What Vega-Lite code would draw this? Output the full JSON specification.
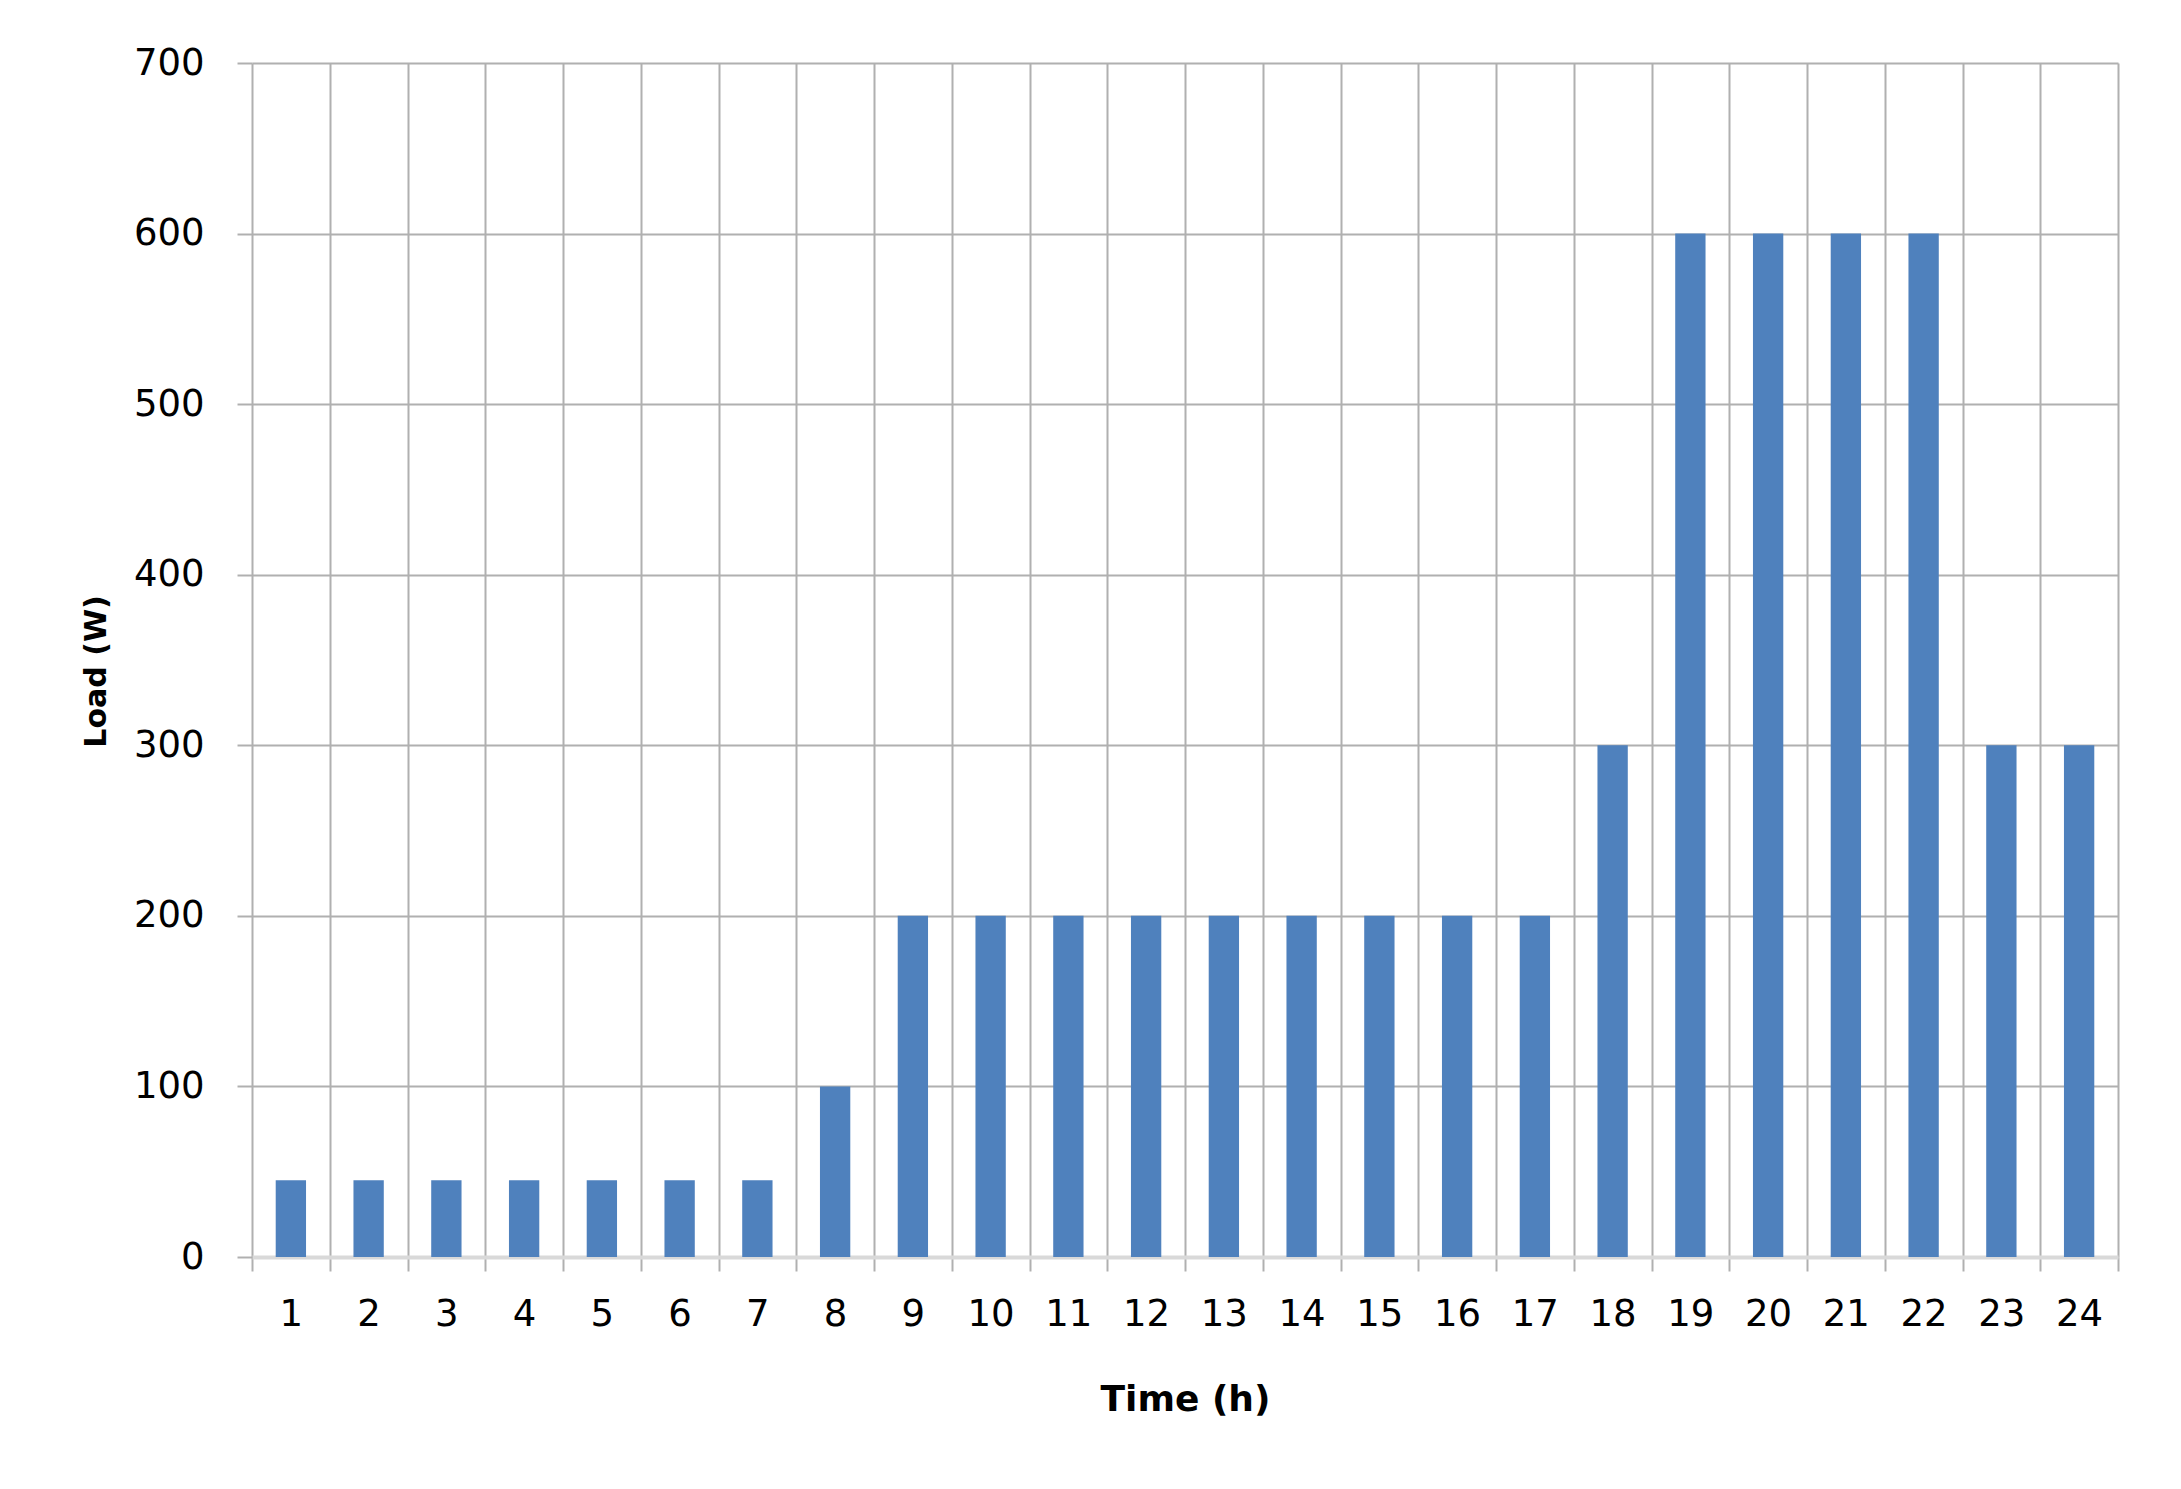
{
  "$schema": "https://vega.github.io/schema/vega-lite/v6.json",
  "width": 1866,
  "height": 1194,
  "autosize": {"type": "none"},
  "padding": {"left": 252, "top": 63, "right": 63, "bottom": 232},
  "background": "white",
  "config": {
    "view": {"stroke": null},
    "font": "DejaVu Sans"
  },
  "data": {
    "values": [
      {"hour": 1, "load": 45},
      {"hour": 2, "load": 45},
      {"hour": 3, "load": 45},
      {"hour": 4, "load": 45},
      {"hour": 5, "load": 45},
      {"hour": 6, "load": 45},
      {"hour": 7, "load": 45},
      {"hour": 8, "load": 100},
      {"hour": 9, "load": 200},
      {"hour": 10, "load": 200},
      {"hour": 11, "load": 200},
      {"hour": 12, "load": 200},
      {"hour": 13, "load": 200},
      {"hour": 14, "load": 200},
      {"hour": 15, "load": 200},
      {"hour": 16, "load": 200},
      {"hour": 17, "load": 200},
      {"hour": 18, "load": 300},
      {"hour": 19, "load": 600},
      {"hour": 20, "load": 600},
      {"hour": 21, "load": 600},
      {"hour": 22, "load": 600},
      {"hour": 23, "load": 300},
      {"hour": 24, "load": 300}
    ]
  },
  "mark": {"type": "bar", "color": "#4F81BD", "width": {"band": 0.39}},
  "encoding": {
    "x": {
      "field": "hour",
      "type": "ordinal",
      "sort": "ascending",
      "scale": {"paddingInner": 0, "paddingOuter": 0},
      "axis": {
        "title": "Time (h)",
        "labelAngle": 0,
        "tickBand": "extent",
        "grid": true,
        "gridColor": "#b0b0b0",
        "gridWidth": 2,
        "ticks": true,
        "tickColor": "#b0b0b0",
        "tickWidth": 2,
        "tickSize": 14,
        "domain": true,
        "domainColor": "#d9d9d9",
        "domainWidth": 4,
        "labelFont": "DejaVu Sans",
        "labelFontSize": 37,
        "labelColor": "#000000",
        "labelPadding": 25,
        "titleFont": "DejaVu Sans",
        "titleFontSize": 36,
        "titleFontWeight": "bold",
        "titleColor": "#000000",
        "titlePadding": 50
      }
    },
    "y": {
      "field": "load",
      "type": "quantitative",
      "scale": {"domain": [0, 700], "nice": false},
      "axis": {
        "title": "Load (W)",
        "values": [0, 100, 200, 300, 400, 500, 600, 700],
        "grid": true,
        "gridColor": "#b0b0b0",
        "gridWidth": 2,
        "ticks": true,
        "tickColor": "#b0b0b0",
        "tickWidth": 2,
        "tickSize": 15,
        "domain": false,
        "labelFont": "DejaVu Sans",
        "labelFontSize": 37,
        "labelColor": "#000000",
        "labelPadding": 33,
        "titleFont": "DejaVu Sans",
        "titleFontSize": 30,
        "titleFontWeight": "bold",
        "titleColor": "#000000",
        "titlePadding": 22,
        "titleY": 608
      }
    }
  }
}
